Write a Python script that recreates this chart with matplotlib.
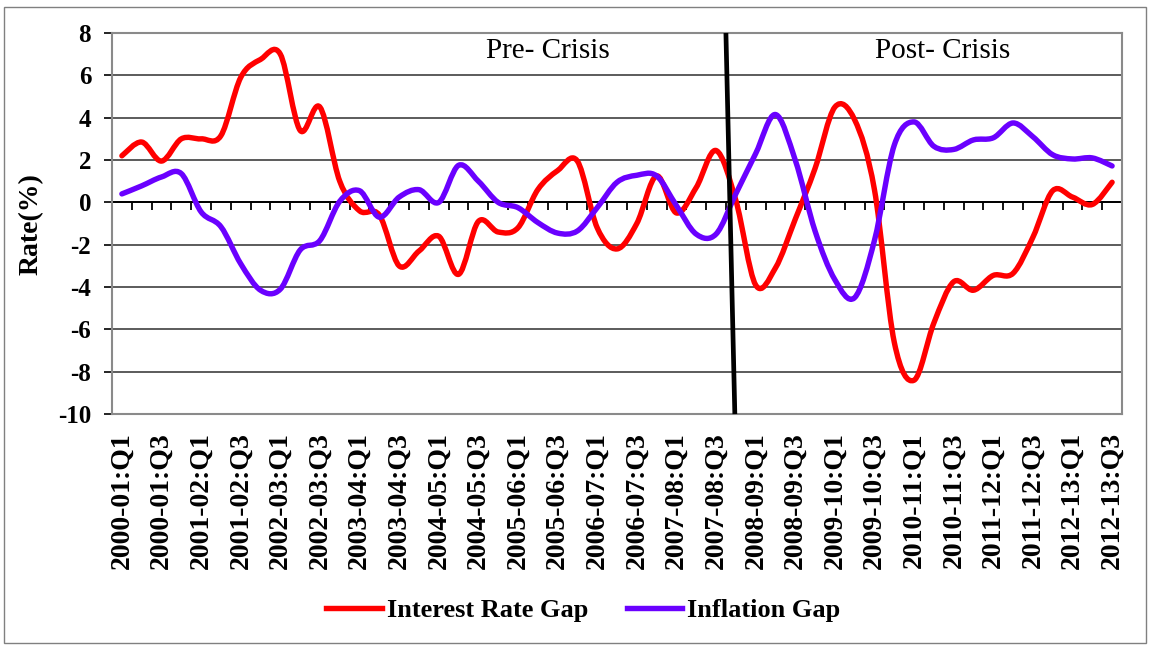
import matplotlib.pyplot as plt
import matplotlib.patches as mpatches
from matplotlib.path import Path
from matplotlib.lines import Line2D
import numpy as np

plt.rcParams['font.family'] = ['Liberation Serif', 'DejaVu Serif']
plt.rcParams['axes.unicode_minus'] = False

# quarterly gaps, 2000-01:Q1 .. 2012-13:Q3
interest_gap = [2.2, 2.85, 1.95, 3.0, 3.0, 3.15, 5.9, 6.75, 7.0, 3.4,
                4.5, 1.0, -0.4, -0.6, -3.0, -2.3, -1.6, -3.4, -0.9, -1.4,
                -1.2, 0.6, 1.5, 1.95, -1.2, -2.2, -1.0, 1.25, -0.5, 0.7,
                2.45, 0.1, -3.9, -3.1, -0.8, 1.6, 4.5, 3.9, 0.6, -6.6,
                -8.4, -5.7, -3.75, -4.15, -3.45, -3.35, -1.65, 0.55, 0.25, -0.1,
                0.95]
inflation_gap = [0.4, 0.78, 1.2, 1.36, -0.45, -1.15, -2.9, -4.15, -4.1, -2.25,
                 -1.8, 0.05, 0.55, -0.7, 0.25, 0.6, 0.0, 1.75, 1.0, 0.0,
                 -0.25, -0.95, -1.45, -1.35, -0.25, 0.95, 1.28, 1.25, -0.15, -1.5,
                 -1.5, 0.4, 2.3, 4.15, 2.0, -1.35, -3.65, -4.5, -1.8, 2.7,
                 3.8, 2.65, 2.5, 2.95, 3.05, 3.75, 3.1, 2.25, 2.05, 2.1,
                 1.72]
tick_labels = ['2000-01:Q1', '2000-01:Q3', '2001-02:Q1', '2001-02:Q3',
               '2002-03:Q1', '2002-03:Q3', '2003-04:Q1', '2003-04:Q3',
               '2004-05:Q1', '2004-05:Q3', '2005-06:Q1', '2005-06:Q3',
               '2006-07:Q1', '2006-07:Q3', '2007-08:Q1', '2007-08:Q3',
               '2008-09:Q1', '2008-09:Q3', '2009-10:Q1', '2009-10:Q3',
               '2010-11:Q1', '2010-11:Q3', '2011-12:Q1', '2011-12:Q3',
               '2012-13:Q1', '2012-13:Q3']
# crisis divider (category units, top and bottom of plot)
crisis_top, crisis_bottom = 30.5, 30.95

RED = '#ff0000'
PURPLE = '#6a00ff'


def smooth_path(xs, ys):
    # spreadsheet-style smoothed line: bezier segments through every point
    pts = np.column_stack([xs, ys]).astype(float)
    n = len(pts)
    verts = [pts[0]]
    codes = [Path.MOVETO]
    for k in range(n - 1):
        p0 = pts[max(k - 1, 0)]
        p1 = pts[k]
        p2 = pts[k + 1]
        p3 = pts[min(k + 2, n - 1)]
        verts += [p1 + (p2 - p0) / 6, p2 - (p3 - p1) / 6, p2]
        codes += [Path.CURVE4] * 3
    return Path(verts, codes)


fig = plt.figure(figsize=(11.51, 6.47), dpi=100)
ax = fig.add_axes([0.0973, 0.360, 0.8775, 0.589])

x = np.arange(len(interest_gap))
for series, col in [(interest_gap, RED), (inflation_gap, PURPLE)]:
    ax.add_patch(mpatches.PathPatch(smooth_path(x, series), fill=False,
                                    edgecolor=col, lw=3.9, capstyle='round',
                                    joinstyle='round', zorder=4))

ax.set_xlim(-0.5, len(x) - 0.5)
ax.set_ylim(-10, 8)
ax.set_yticks(range(-10, 9, 2))
ax.grid(axis='y', color='#404040', lw=1.2, zorder=1)
ax.set_axisbelow(True)

ax.set_xticks(x[::2])
ax.set_xticklabels(tick_labels, rotation=90, fontsize=20, fontweight='bold')
ax.tick_params(axis='x', length=0, pad=13)
ax.tick_params(axis='y', length=6, width=1.2, pad=9, labelsize=18)
for lab in ax.get_yticklabels():
    lab.set_fontweight('bold')

# small tick marks hanging off the zero line
ax.vlines(x[:-1] + 0.5, -0.38, 0, color='black', lw=1.3, zorder=2)
ax.axhline(0, color='black', lw=1.4, zorder=2)

for side in ['left', 'right', 'top', 'bottom']:
    ax.spines[side].set_color('#8a8a8a')
    ax.spines[side].set_linewidth(1.5)

ax.plot([crisis_top, crisis_bottom], [8, -10], color='black', lw=3.4,
        solid_capstyle='butt', clip_on=False, zorder=5)
ax.text(0.432, 0.952, 'Pre- Crisis', transform=ax.transAxes, ha='center',
        va='center', fontsize=21)
ax.text(0.822, 0.952, 'Post- Crisis', transform=ax.transAxes, ha='center',
        va='center', fontsize=21)

fig.text(31 / 1151, 1 - 224 / 647, 'Rate(%)', rotation=90, ha='center',
         va='center', fontsize=20, fontweight='bold')

handles = [Line2D([], [], color=RED, lw=3.9), Line2D([], [], color=PURPLE, lw=3.9)]
fig.legend(handles, ['Interest Rate Gap', 'Inflation Gap'], loc='center',
           bbox_to_anchor=(0.507, 0.057), ncol=2, frameon=False,
           prop=dict(weight='bold', size=19), handlelength=2.1,
           handletextpad=0.2, columnspacing=1.45)

fig.add_artist(mpatches.Rectangle((4 / 1151, 4 / 647), 1142 / 1151, 636 / 647,
                                  transform=fig.transFigure, fill=False,
                                  ec='#808080', lw=1))

fig.savefig('out.png', dpi=100)
